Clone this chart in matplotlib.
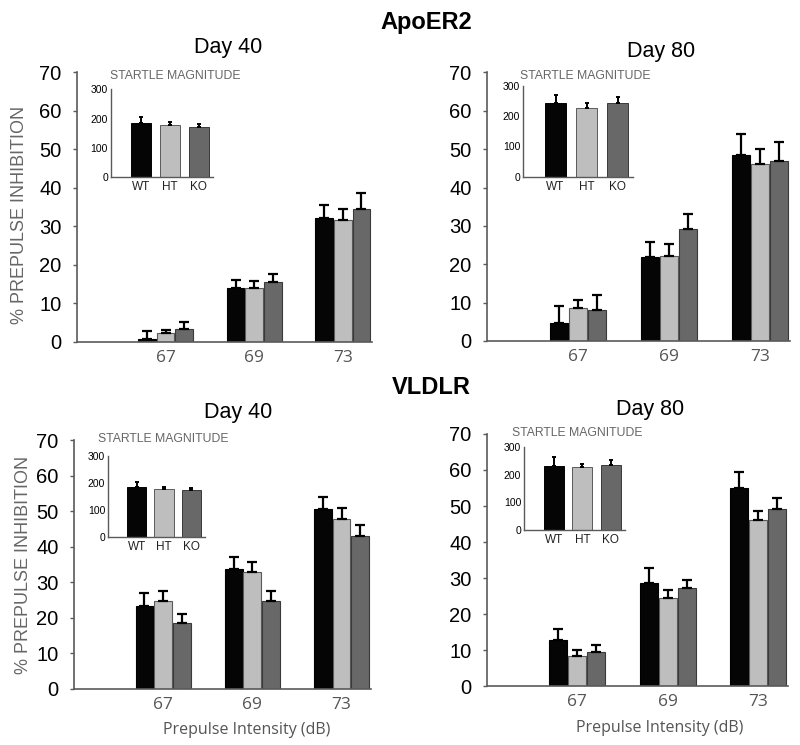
import matplotlib
matplotlib.use('Agg')
import matplotlib.pyplot as plt
import numpy as np

plt.rcParams['font.family'] = ['Liberation Sans', 'DejaVu Sans']

intensities = ['67', '69', '73']
genotypes = ['WT', 'HT', 'KO']
colors = ['#050505', '#bebebe', '#686868']
edges = ['#000000', '#5a5a5a', '#3a3a3a']

# % prepulse inhibition, rows = WT, HT, KO ; cols = 67, 69, 73 dB
apoer2_d40 = [[0.9, 14.0, 32.2], [2.4, 14.0, 31.7], [3.3, 15.6, 34.6]]
apoer2_d40_err = [[1.9, 2.2, 3.4], [0.8, 1.7, 2.7], [1.9, 2.1, 3.9]]
apoer2_d80 = [[4.7, 21.9, 48.5], [8.7, 22.1, 46.1], [8.0, 29.1, 47.0]]
apoer2_d80_err = [[4.3, 3.9, 5.4], [1.9, 3.1, 3.9], [3.9, 4.1, 4.8]]
vldlr_d40 = [[23.4, 33.6, 50.5], [24.8, 32.8, 47.8], [18.5, 24.6, 43.1]]
vldlr_d40_err = [[3.5, 3.4, 3.6], [2.8, 2.8, 3.0], [2.5, 3.0, 3.1]]
vldlr_d80 = [[12.8, 28.7, 54.9], [8.3, 24.5, 46.1], [9.5, 27.1, 49.2]]
vldlr_d80_err = [[2.9, 4.0, 4.6], [1.7, 2.2, 2.5], [1.9, 2.3, 3.1]]

# startle magnitude insets (WT, HT, KO)
startle_apoer2_d40 = [186, 178, 173]
startle_apoer2_d40_err = [19, 12, 9]
startle_apoer2_d80 = [243, 226, 243]
startle_apoer2_d80_err = [27, 17, 19]
startle_vldlr_d40 = [184, 178, 172]
startle_vldlr_d40_err = [18, 7, 9]
startle_vldlr_d80 = [232, 226, 235]
startle_vldlr_d80_err = [32, 14, 19]

W, H = 800, 745
fig = plt.figure(figsize=(8, 7.45), dpi=100)


def rect(x0, x1, ytop, ybot):
    # pixel box -> figure fraction
    return [x0 / W, 1 - ybot / H, (x1 - x0) / W, (ybot - ytop) / H]


spine_c = '#5a5a5a'


def main_panel(box, means, errs):
    ax = fig.add_axes(rect(*box))
    x = np.arange(1, 4)
    w = 0.21
    for i in range(3):
        ax.bar(x + (i - 1) * w, means[i], width=0.2, color=colors[i],
               edgecolor=edges[i], linewidth=0.8,
               yerr=[[0, 0, 0], errs[i]],
               error_kw=dict(ecolor='black', elinewidth=1.6, capsize=3.8, capthick=1.6))
    ax.set_xlim(0, 3.33)
    ax.set_ylim(0, 70)
    ax.set_yticks(range(0, 71, 10))
    ax.set_xticks(x)
    ax.set_xticklabels(intensities, family=['Open Sans', 'DejaVu Sans'],
                       color='#555555', fontsize=12.5)
    for s in ['top', 'right']:
        ax.spines[s].set_visible(False)
    for s in ['left', 'bottom']:
        ax.spines[s].set_color(spine_c)
        ax.spines[s].set_linewidth(1.2)
    ax.tick_params(axis='y', labelsize=14.5, length=3, width=1, color=spine_c, pad=8)
    ax.tick_params(axis='x', length=0, pad=6)
    return ax


def inset(box, means, errs):
    ax = fig.add_axes(rect(*box))
    x = np.arange(3)
    ax.bar(x, means, width=0.7, color=colors, edgecolor=edges, linewidth=0.7,
           yerr=[[0, 0, 0], errs],
           error_kw=dict(ecolor='black', elinewidth=1.4, capsize=1.6, capthick=1.4))
    ax.set_xlim(-1.05, 2.5)
    ax.set_ylim(0, 300)
    ax.set_yticks([0, 100, 200, 300])
    ax.set_xticks(x)
    ax.set_xticklabels(genotypes, fontsize=8.5, color='#222222')
    for s in ['top', 'right']:
        ax.spines[s].set_visible(False)
    for s in ['left', 'bottom']:
        ax.spines[s].set_color(spine_c)
        ax.spines[s].set_linewidth(1.0)
    ax.tick_params(axis='y', labelsize=7.5, length=0, pad=2)
    ax.tick_params(axis='x', length=0, pad=3)
    return ax


# panels: (x0, x1, ytop, ybot) in pixels
main_panel((77, 372, 72, 342), apoer2_d40, apoer2_d40_err)
main_panel((487, 790, 72.5, 341), apoer2_d80, apoer2_d80_err)
main_panel((74, 371, 440, 689), vldlr_d40, vldlr_d40_err)
main_panel((487, 788, 434, 686), vldlr_d80, vldlr_d80_err)

inset((110.7, 213, 89.3, 177.3), startle_apoer2_d40, startle_apoer2_d40_err)
inset((523, 633, 86, 176.7), startle_apoer2_d80, startle_apoer2_d80_err)
inset((108, 205, 455.7, 536.7), startle_vldlr_d40, startle_vldlr_d40_err)
inset((524, 625, 447, 530), startle_vldlr_d80, startle_vldlr_d80_err)


def ftext(px, py, s, **kw):
    fig.text(px / W, 1 - py / H, s, ha='center', va='center', **kw)


ftext(426, 22, 'ApoER2', fontsize=17, fontweight='bold')
ftext(431, 387, 'VLDLR', fontsize=17, fontweight='bold')
ftext(228, 48, 'Day 40', fontsize=15.5)
ftext(661, 51, 'Day 80', fontsize=15.5)
ftext(238, 412, 'Day 40', fontsize=15.5)
ftext(650, 410, 'Day 80', fontsize=15.5)

for (px, py) in [(175, 76), (585, 76), (163, 439), (577, 433)]:
    ftext(px, py, 'STARTLE MAGNITUDE', fontsize=8.8, color='#666666')

ftext(20, 215, '% PREPULSE INHIBITION', fontsize=13, color='#666666', rotation=90)
ftext(24, 565, '% PREPULSE INHIBITION', fontsize=13, color='#666666', rotation=90)

ftext(247, 730, 'Prepulse Intensity (dB)', fontsize=11.5, color='#555555',
      family=['Open Sans', 'DejaVu Sans'])
ftext(660, 728, 'Prepulse Intensity (dB)', fontsize=11.5, color='#555555',
      family=['Open Sans', 'DejaVu Sans'])

fig.savefig('out.png', dpi=100)
